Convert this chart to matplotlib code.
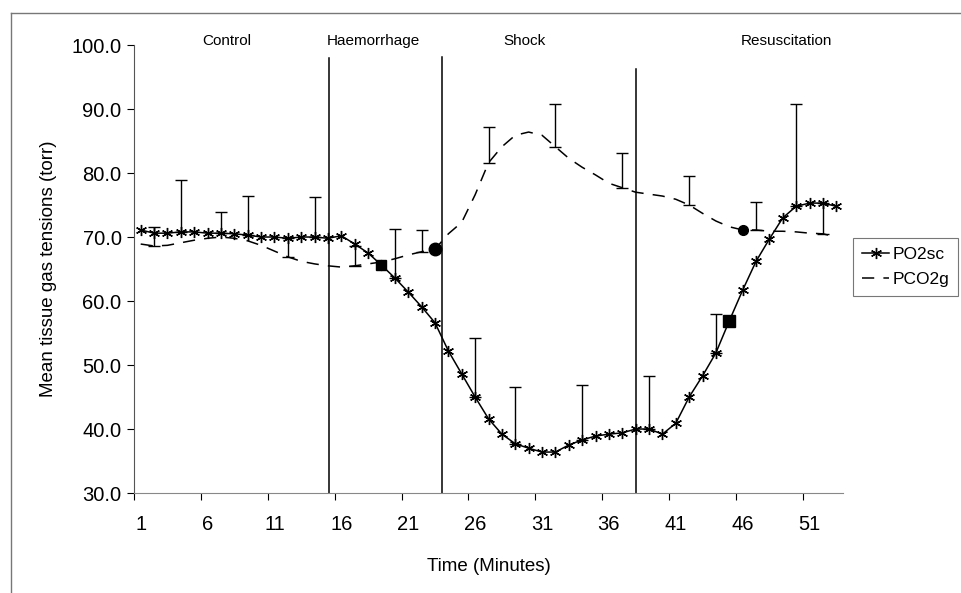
import matplotlib.pyplot as plt
from matplotlib.lines import Line2D
from matplotlib.ticker import FormatStrFormatter

plt.rcParams['font.family'] = ['Liberation Sans', 'DejaVu Sans']

# minutes 1..53
minutes = list(range(1, 54))

po2sc = [71.1, 70.6, 70.6, 70.8, 70.8, 70.6, 70.6, 70.5, 70.3, 70.0,
         70.0, 69.8, 70.0, 70.0, 69.8, 70.2, 68.9, 67.5, 65.6, 63.6,
         61.4, 59.1, 56.6, 52.2, 48.6, 45.0, 41.6, 39.2, 37.7, 37.0,
         36.4, 36.4, 37.5, 38.3, 38.9, 39.2, 39.4, 40.0, 40.0, 39.2,
         40.9, 45.0, 48.3, 51.9, 56.9, 61.7, 66.2, 69.7, 73.0, 74.8,
         75.3, 75.3, 74.8]

pco2g = [68.9, 68.6, 68.7, 69.1, 69.5, 69.8, 70.0, 69.8, 69.4, 68.7,
         67.8, 66.9, 66.2, 65.8, 65.5, 65.3, 65.5, 65.8, 66.1, 66.6,
         67.2, 67.7, 68.1, 70.5, 72.3, 76.6, 81.6, 84.1, 85.9, 86.4,
         85.9, 84.1, 82.3, 80.9, 79.7, 78.4, 77.7, 77.0, 76.7, 76.4,
         75.9, 75.0, 73.7, 72.5, 71.6, 71.1, 71.1, 70.9, 70.9, 70.8,
         70.6, 70.5, 70.0]

# upper error bar ends (minute, value)
po2_err_min = [4, 7, 9, 14, 20, 26, 29, 34, 39, 44, 50]
po2_err_top = [78.9, 73.9, 76.4, 76.2, 71.2, 54.2, 46.6, 46.9, 48.3, 58.0, 90.8]
pco2_err_min = [2, 12, 17, 22, 27, 32, 37, 42, 47, 52]
pco2_err_top = [71.6, 69.9, 68.6, 71.1, 87.2, 90.8, 83.1, 79.5, 75.5, 75.3]

# highlighted points
po2_sq_min = [19, 45]
po2_sq_size = [7, 9]
pco2_dot_min = [23, 46]
pco2_dot_size = [9, 7]

phase_names = ['Control', 'Haemorrhage', 'Shock', 'Resuscitation']
phase_pos = [7.4, 18.4, 29.7, 49.3]
phase_bounds = [15.1, 23.5, 38.05]
bound_tops = [98.0, 98.2, 96.3]

fig = plt.figure(figsize=(9.62, 5.93), dpi=100)
ax = fig.add_axes([0.1393, 0.1686, 0.7370, 0.7555])

for b, t in zip(phase_bounds, bound_tops):
    ax.plot([b, b], [30, t], color='black', lw=1.1, zorder=1)

# error bars (plus direction only)
po2_low = [po2sc[m - 1] for m in po2_err_min]
ax.errorbar(po2_err_min, po2_low,
            yerr=[[0] * len(po2_low), [t - l for t, l in zip(po2_err_top, po2_low)]],
            fmt='none', ecolor='black', elinewidth=1.0, capsize=4, capthick=1.0, zorder=2)
pco2_low = [pco2g[m - 1] for m in pco2_err_min]
ax.errorbar(pco2_err_min, pco2_low,
            yerr=[[0] * len(pco2_low), [t - l for t, l in zip(pco2_err_top, pco2_low)]],
            fmt='none', ecolor='black', elinewidth=1.0, capsize=4, capthick=1.0, zorder=2)

ax.plot(minutes, po2sc, color='black', lw=1.1, marker=(6, 2, 0), markersize=8,
        markeredgewidth=1.0, label='PO2sc', zorder=3)
ax.plot(minutes, pco2g, color='black', lw=1.1, dashes=(8, 6), label='PCO2g', zorder=3)

for m, s in zip(po2_sq_min, po2_sq_size):
    ax.plot([m], [po2sc[m - 1]], 's', color='black', markersize=s, zorder=4)
for m, s in zip(pco2_dot_min, pco2_dot_size):
    ax.plot([m], [pco2g[m - 1]], 'o', color='black', markersize=s, zorder=4)

for name, p in zip(phase_names, phase_pos):
    ax.text(p, 100.6, name, ha='center', va='center', fontsize=11)

ax.set_xlim(0.5, 53.5)
ax.set_ylim(30, 100)
ax.set_yticks(range(30, 101, 10))
ax.yaxis.set_major_formatter(FormatStrFormatter('%.1f'))
ax.set_xticks(range(1, 53, 5))
ax.set_xticks([0.5 + 5 * k for k in range(11)], minor=True)
ax.tick_params(axis='x', which='major', length=0, pad=16, labelsize=14.5)
ax.tick_params(axis='x', which='minor', length=5, width=0.8)
ax.tick_params(axis='y', length=5, width=0.8, labelsize=14.5, pad=4)
for s in ['top', 'right']:
    ax.spines[s].set_visible(False)
ax.spines['left'].set_linewidth(0.8)
ax.spines['bottom'].set_linewidth(0.8)
ax.spines['bottom'].set_color('#888888')
ax.spines['left'].set_color('#555555')

ax.set_xlabel('Time (Minutes)', fontsize=13.5, labelpad=17)
ax.set_ylabel('Mean tissue gas tensions (torr)', fontsize=13.5, labelpad=10)

leg = fig.legend(loc='upper left', bbox_to_anchor=(0.8867, 0.5986), fontsize=12.5,
                 frameon=True, fancybox=False, handlelength=1.6, handletextpad=0.2,
                 borderpad=0.5, labelspacing=0.6, borderaxespad=0)
leg.get_frame().set_edgecolor('#555555')
leg.get_frame().set_linewidth(0.8)

# outer chart frame
fig.add_artist(Line2D([11 / 962, 1], [1 - 13 / 593, 1 - 13 / 593], color='#777777', lw=1))
fig.add_artist(Line2D([11 / 962, 11 / 962], [0, 1 - 13 / 593], color='#777777', lw=1))

fig.savefig('out.png', dpi=100)
